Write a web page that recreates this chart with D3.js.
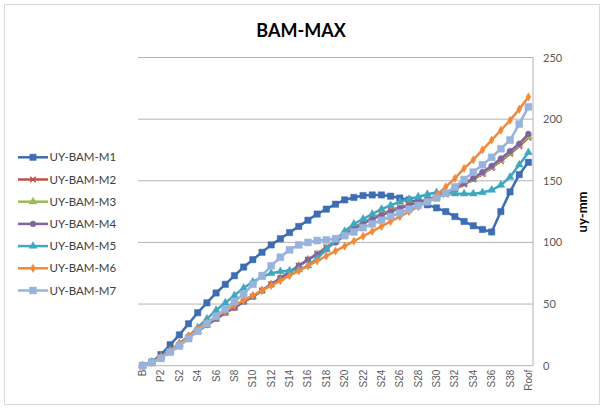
<!DOCTYPE html>
<html><head><meta charset="utf-8">
<script src="https://cdn.jsdelivr.net/npm/d3@7"></script>
<style>body{margin:0;background:#fff;} svg{display:block;font-family:Lato, "Open Sans", sans-serif;}</style>
</head><body><svg id="c" width="605" height="410"></svg>
<script>
const categories = ["B","P1","P2"].concat(d3.range(1,40).map(i=>"S"+i)).concat(["Roof"]);
const seriesNames = ["UY-BAM-M1","UY-BAM-M2","UY-BAM-M3","UY-BAM-M4","UY-BAM-M5","UY-BAM-M6","UY-BAM-M7"];
const m1 = [0,3,9,17,25,34,43,51,59,66,73,80,86,92,98,103,108,113,118,123,127,131,134.5,136.5,138,138.5,138.5,137.5,136,134.5,132.5,130.5,128,125,121,117,113.5,110.5,108.5,125,141,155,165];
const m4 = [0,2.5,7,12,17,23,28,33,38,43,47,52,56,61,66,71,76,81,86,90,95,100,106,111,115,119,122,125,127.5,130,132.5,135,137,140,144,148,152,157,162,168,174,180,188];
const m2 = [0,2.5,7,12,17,23,28,33,38,43,47,52,56,61,66,71,76,81,86,91,96,101,107,112,116,120,123,126,128.5,130.5,132.5,134.5,136.5,139,143,147,151,155.5,160.5,166,172,178,185];
const m3 = [0,2.5,7,12,17,23,28,33,38,43,47,52,56,61,66,71,76,81,86,90.5,95.5,100.5,106.5,111.5,115.5,119.5,122.5,125.5,128,130.5,132.5,134.5,136.5,139.5,143.5,147.5,151.5,156,161,167,173,179,186];
const m5 = [0,3,7,12,18,24,31,38,45,51,57,63,68,72,75,76.5,77,78,81,87,94,102,109,115,119,123,127,130,133,135,137,139,140.5,140,139.5,139.5,139.5,140.5,142.5,146.5,153,163,173];
const m6 = [0,2.5,7,12,18,24,30,35,40,44,49,53,57,61,65,69,73,77,81,85,89,93,97,101,105,109,113,117,121,125,129,133,138.5,145,152,160,167,175,183,191,199,208,218];
const m7 = [0,2.5,6,11,16,22,28,34,40,46,52,58,66,73,81,88,94,98,100,101.5,102,103,105.5,108.5,112,115,118,121,124,127,130,133,136,140,145,151,157,163,169,176,183,196,210];
const yTicks = [0,50,100,150,200,250];
const colors = ["#3d6db2","#c0504d","#9bbb59","#8064a2","#3fa8c0","#f08a3a","#98b3dc"];
const markers = ["square","cross","triangle","circle","triangle","diamond","square"];
const values = [m1,m2,m3,m4,m5,m6,m7];

const svg = d3.select("#c");
svg.append("rect").attr("x",4.5).attr("y",4.5).attr("width",595).attr("height",400).attr("fill","#fff").attr("stroke","#d9d9d9");

const L=138, R=533, T=57.5, B=365.7;
const x = d3.scaleBand().domain(categories).range([L,R]);
const cx = c => x(c)+x.bandwidth()/2;
const y = d3.scaleLinear().domain([0,250]).range([B,T]);

svg.append("g").selectAll("line").data(yTicks).join("line")
  .attr("x1",L).attr("x2",R).attr("y1",d=>y(d)).attr("y2",d=>y(d))
  .attr("stroke","#b3b3b3").attr("stroke-width",1);
svg.append("line").attr("x1",R).attr("x2",R).attr("y1",T).attr("y2",B).attr("stroke","#b3b3b3");

const ya = svg.append("g").attr("transform",`translate(${R},0)`).call(d3.axisRight(y).tickValues(yTicks).tickSize(0).tickPadding(10));
ya.select(".domain").remove();
ya.selectAll("text").attr("font-size",11).attr("fill","#595959").attr("font-family","Lato, sans-serif");

const xa = svg.append("g").attr("transform",`translate(0,${B})`).call(d3.axisBottom(x).tickValues(categories.filter((c,i)=>i%2===0)).tickSize(0));
xa.select(".domain").remove();
xa.selectAll("text").attr("transform","rotate(-90)").attr("text-anchor","end").attr("dx","-4").attr("dy","0.35em").attr("y",0).attr("x",0)
  .attr("font-size",10).attr("fill","#595959");

const sym = {square:d3.symbolSquare, cross:d3.symbolX, triangle:d3.symbolTriangle, circle:d3.symbolCircle, diamond:d3.symbolDiamond};
const sizes = {square:40, cross:22, triangle:26, circle:26, diamond:20};

const line = d3.line().x((d,i)=>cx(categories[i])).y(d=>y(d));
values.forEach((vals,k)=>{
  const g = svg.append("g");
  g.append("path").datum(vals).attr("d",line).attr("fill","none").attr("stroke",colors[k]).attr("stroke-width",2.5).attr("stroke-linejoin","round");
  const s = d3.symbol().type(sym[markers[k]]).size(k===6?48:sizes[markers[k]]);
  g.selectAll("path.m").data(vals).join("path").attr("class","m")
    .attr("transform",(d,i)=>`translate(${cx(categories[i])},${y(d)})`)
    .attr("d",s).attr("fill",colors[k]).attr("stroke",colors[k]).attr("stroke-width",markers[k]==="cross"?1.5:0.5);
});

const lg = svg.append("g");
seriesNames.forEach((n,k)=>{
  const yy = 157.3 + k*22.2;
  lg.append("line").attr("x1",18).attr("x2",48).attr("y1",yy).attr("y2",yy).attr("stroke",colors[k]).attr("stroke-width",2.5);
  lg.append("path").attr("transform",`translate(33,${yy})`).attr("d",d3.symbol().type(sym[markers[k]]).size(k===6?48:sizes[markers[k]])())
    .attr("fill",colors[k]).attr("stroke",colors[k]).attr("stroke-width",markers[k]==="cross"?1.5:0.5);
  lg.append("text").attr("x",49.5).attr("y",yy+4).attr("font-size",11.5).attr("fill","#404040").text(n);
});

svg.append("text").attr("x",301).attr("y",37).attr("text-anchor","middle").attr("font-size",18).attr("font-weight","bold").attr("fill","#000").text("BAM-MAX");
svg.append("text").attr("transform","translate(587,212) rotate(-90)").attr("text-anchor","middle").attr("font-size",13).attr("font-weight","bold").attr("fill","#000").text("uy-mm");
</script></body></html>
